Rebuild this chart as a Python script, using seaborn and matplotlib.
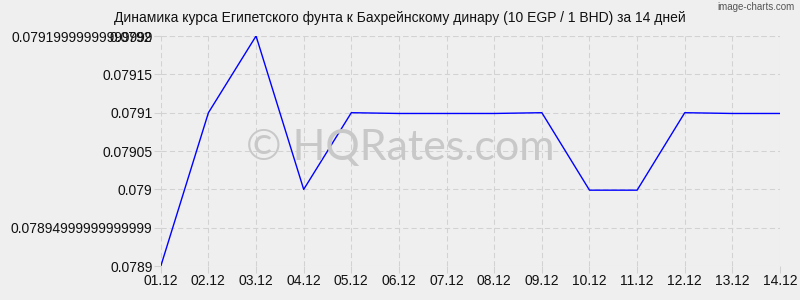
import matplotlib
matplotlib.use("Agg")
import matplotlib.pyplot as plt
import seaborn as sns
import pandas as pd
from matplotlib.ticker import FixedLocator, FixedFormatter

dates = ["01.12", "02.12", "03.12", "04.12", "05.12", "06.12", "07.12",
         "08.12", "09.12", "10.12", "11.12", "12.12", "13.12", "14.12"]
rates = [0.07890, 0.07910, 0.07920, 0.07900, 0.07910, 0.079099, 0.079099,
         0.079099, 0.07910, 0.078999, 0.078999, 0.07910, 0.079099, 0.079099]
ytick_values = [0.0789, 0.07895, 0.079, 0.07905, 0.0791, 0.07915, 0.0792, 0.0792]
ytick_labels = ["0.0789", "0.07894999999999999", "0.079", "0.07905", "0.0791",
                "0.07915", "0.07919999999999999", "0.0792"]
title = "Динамика курса Египетского фунта к Бахрейнскому динару (10 EGP / 1 BHD) за 14 дней"

sns.set_theme(style="white")
plt.rcParams['font.family'] = ['Liberation Sans', 'DejaVu Sans']

bg = "#efefef"
fig = plt.figure(figsize=(8, 3), dpi=100, facecolor=bg)
ax = fig.add_axes([0.201, 0.113, 0.774, 0.767])
ax.set_facecolor(bg)

df = pd.DataFrame({"date": dates, "rate": rates})
sns.lineplot(data=df, x="date", y="rate", ax=ax, color="#0000ff", linewidth=1, sort=False)

ax.set_xlim(0, len(dates) - 1)
ax.set_ylim(0.0789, 0.0792)
ax.yaxis.set_major_locator(FixedLocator(ytick_values))
ax.yaxis.set_major_formatter(FixedFormatter(ytick_labels))
ax.set_xticks(range(len(dates)))
ax.set_xticklabels(dates)
ax.set_xlabel("")
ax.set_ylabel("")

for s in ax.spines.values():
    s.set_visible(False)
ax.grid(True, color="#d2d2d2", linestyle=(0, (5, 3)), linewidth=0.75)
ax.tick_params(axis="both", which="both", length=5, width=0.75, color="#d2d2d2",
               labelsize=10, labelcolor="#111111", pad=1, left=True, bottom=True)

fig.text(0.5, 0.94, title, ha="center", va="center", fontsize=10, color="#111111")
fig.text(0.993, 0.975, "image-charts.com", ha="right", va="center", fontsize=7,
         color="#555555", fontstretch="condensed")
fig.text(0.5, 0.505, "© HQRates.com", ha="center", va="center",
         fontsize=31, color="#c8c8c8", family=["Lato", "DejaVu Sans"], zorder=0)

fig.savefig("out.png", dpi=100, facecolor=bg)
